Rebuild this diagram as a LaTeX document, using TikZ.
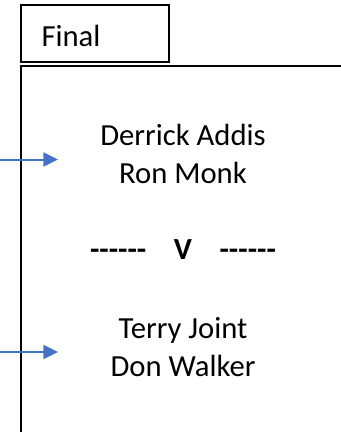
\documentclass[tikz,border=0pt]{standalone}
\usepackage{fontspec}
\setmainfont{Carlito}
\usetikzlibrary{arrows.meta}
\tikzset{every picture/.style={line width=0.75pt}}
\tikzset{
  names/.style={align=center, font=\fontsize{23}{28.5}\selectfont, inner sep=0pt},
  feeder/.style={color={rgb, 255:red, 68; green, 114; blue, 196}, line width=1.5pt, -{Triangle[length=11pt, width=10.5pt]}}
}
\newcommand{\hyphenrun}{-\kern0pt-\kern0pt-\kern0pt-\kern0pt-\kern0pt-}
\begin{document}
\begin{tikzpicture}[x=0.75pt,y=0.75pt,yscale=-1,xscale=1]
	\useasboundingbox (0,0) rectangle (341,432);

	%Shape: Rectangle [id:final]
	\draw [line width=1.2pt] (21,5) rectangle (169,62);
	%Straight Lines [id:round]
	\draw [line width=1.5pt] (21,432) -- (21,66) -- (342,66);

	% Text Node
	\node [names, anchor=west] (final) at (41,36) {Final};
	% Text Node
	\node [names] (matchA) at (183,154) {Derrick Addis\\Ron Monk};
	% Text Node
	\node [names, font=\fontsize{23}{28.5}\selectfont\bfseries] (versus) at (183,250) {\hyphenrun\hspace{0.9em}V\hspace{0.9em}\hyphenrun};
	% Text Node
	\node [names] (matchB) at (183,347) {Terry Joint\\Don Walker};

	%Straight Lines [id:feedA]
	\coordinate (inA) at (0,159.5);
	\coordinate (tipA) at (58,159.5);
	\draw [feeder] (inA) -- (tipA);
	%Straight Lines [id:feedB]
	\coordinate (inB) at (0,352);
	\coordinate (tipB) at (58,352);
	\draw [feeder] (inB) -- (tipB);
\end{tikzpicture}
\end{document}
